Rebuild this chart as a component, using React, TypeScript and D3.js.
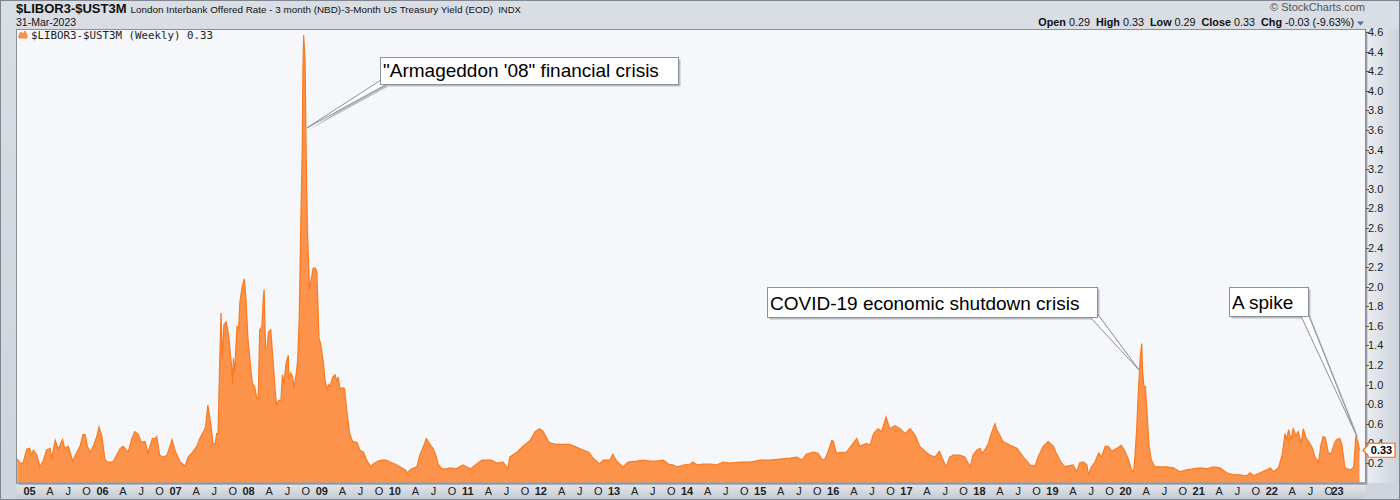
import React, { useEffect, useRef } from 'react';
import * as d3 from 'd3';

// $LIBOR3-$UST3M weekly spread as [decimal year, value]
const pre2007: [number, number][] = [
  [2004.88, 0.24], [2004.92, 0.2], [2004.96, 0.2], [2005.01, 0.34], [2005.05, 0.35], [2005.08, 0.28],
  [2005.1, 0.33], [2005.15, 0.28], [2005.19, 0.16], [2005.24, 0.23], [2005.28, 0.33], [2005.33, 0.35],
  [2005.35, 0.24], [2005.4, 0.43], [2005.44, 0.34], [2005.5, 0.44], [2005.53, 0.35], [2005.58, 0.37],
  [2005.64, 0.22], [2005.69, 0.3], [2005.74, 0.37], [2005.78, 0.49], [2005.81, 0.49], [2005.84, 0.37],
  [2005.88, 0.31], [2005.92, 0.37], [2005.97, 0.47], [2006.0, 0.57], [2006.04, 0.47], [2006.08, 0.24],
  [2006.11, 0.21], [2006.15, 0.21], [2006.19, 0.21], [2006.24, 0.28], [2006.29, 0.35], [2006.33, 0.37],
  [2006.38, 0.33], [2006.4, 0.31], [2006.45, 0.45], [2006.49, 0.52], [2006.54, 0.49], [2006.58, 0.41],
  [2006.63, 0.42], [2006.67, 0.3], [2006.73, 0.45], [2006.77, 0.45], [2006.79, 0.47], [2006.83, 0.28],
  [2006.88, 0.26], [2006.93, 0.28], [2006.97, 0.37],
];

const crisis: [number, number][] = [
  [2007.0, 0.44], [2007.04, 0.33], [2007.11, 0.21], [2007.18, 0.17], [2007.22, 0.26], [2007.27, 0.3],
  [2007.34, 0.37], [2007.38, 0.45], [2007.43, 0.52], [2007.46, 0.57], [2007.49, 0.79], [2007.53, 0.6],
  [2007.56, 0.4], [2007.59, 0.39], [2007.61, 0.5], [2007.63, 0.5], [2007.65, 1.15], [2007.67, 1.73],
  [2007.69, 1.27], [2007.71, 1.61], [2007.74, 1.64], [2007.77, 1.53], [2007.79, 1.39], [2007.82, 1.15],
  [2007.83, 1.01], [2007.84, 1.27], [2007.86, 1.12], [2007.87, 1.32], [2007.89, 1.59], [2007.91, 1.56],
  [2007.93, 1.85], [2007.96, 2.0], [2007.99, 2.08], [2008.01, 1.9], [2008.04, 1.46], [2008.08, 1.15],
  [2008.1, 1.01], [2008.13, 0.98], [2008.16, 0.86], [2008.18, 0.86], [2008.2, 1.56], [2008.23, 1.59],
  [2008.25, 1.9], [2008.26, 1.97], [2008.28, 1.37], [2008.3, 1.37], [2008.32, 1.54], [2008.35, 1.56],
  [2008.38, 1.27], [2008.41, 0.95], [2008.43, 0.79], [2008.46, 0.84], [2008.49, 0.84], [2008.51, 1.1],
  [2008.53, 1.01], [2008.56, 1.22], [2008.59, 1.3], [2008.6, 1.05], [2008.62, 1.12], [2008.65, 1.08],
  [2008.67, 0.97], [2008.7, 1.12], [2008.72, 1.27], [2008.74, 1.69], [2008.76, 2.6], [2008.78, 3.4],
  [2008.79, 4.2], [2008.8, 4.57], [2008.82, 4.3], [2008.83, 3.6], [2008.85, 2.6], [2008.88, 1.97],
  [2008.91, 2.1], [2008.93, 2.19], [2008.96, 2.19], [2008.98, 2.15], [2009.01, 1.47], [2009.03, 1.42],
  [2009.07, 1.22], [2009.09, 1.05], [2009.12, 0.95], [2009.14, 1.0], [2009.16, 0.98], [2009.2, 1.08],
  [2009.23, 1.1], [2009.25, 1.03], [2009.27, 1.08], [2009.3, 0.95], [2009.33, 0.97], [2009.36, 0.96],
  [2009.39, 0.72], [2009.43, 0.5], [2009.47, 0.42], [2009.53, 0.41], [2009.57, 0.33], [2009.62, 0.31],
  [2009.66, 0.23], [2009.72, 0.16], [2009.75, 0.19], [2009.82, 0.22], [2009.87, 0.23], [2009.93, 0.23],
  [2009.98, 0.21],
];

const calm: [number, number][] = [
  [2010.05, 0.19], [2010.12, 0.16], [2010.19, 0.13], [2010.22, 0.1], [2010.28, 0.14], [2010.35, 0.16],
  [2010.39, 0.28], [2010.44, 0.37], [2010.48, 0.45], [2010.53, 0.39], [2010.57, 0.35], [2010.61, 0.28],
  [2010.64, 0.19], [2010.69, 0.14], [2010.76, 0.14], [2010.8, 0.15], [2010.89, 0.14], [2010.98, 0.18],
  [2011.08, 0.14], [2011.17, 0.19], [2011.24, 0.23], [2011.31, 0.23], [2011.37, 0.23], [2011.44, 0.2],
  [2011.53, 0.21], [2011.6, 0.14], [2011.62, 0.26], [2011.72, 0.31], [2011.8, 0.37], [2011.9, 0.43],
  [2011.97, 0.52], [2012.03, 0.55], [2012.08, 0.52], [2012.15, 0.42], [2012.19, 0.4], [2012.26, 0.39],
  [2012.35, 0.39], [2012.44, 0.39], [2012.54, 0.36], [2012.63, 0.33], [2012.7, 0.31], [2012.76, 0.25],
  [2012.85, 0.19], [2012.9, 0.23], [2012.99, 0.23], [2013.03, 0.29], [2013.08, 0.22], [2013.17, 0.16],
  [2013.24, 0.21], [2013.36, 0.22], [2013.45, 0.23], [2013.54, 0.22], [2013.63, 0.22], [2013.72, 0.23],
  [2013.79, 0.19], [2013.86, 0.18], [2013.91, 0.16], [2014.0, 0.18], [2014.09, 0.19], [2014.13, 0.21],
  [2014.18, 0.18], [2014.27, 0.19], [2014.36, 0.19], [2014.45, 0.18], [2014.54, 0.21], [2014.63, 0.2],
  [2014.77, 0.21], [2014.91, 0.21], [2015.05, 0.23], [2015.18, 0.23], [2015.32, 0.24], [2015.46, 0.25],
  [2015.55, 0.26], [2015.62, 0.23], [2015.68, 0.29], [2015.77, 0.31], [2015.84, 0.3], [2015.89, 0.24],
  [2015.93, 0.23], [2015.97, 0.3],
];

const late: [number, number][] = [
  [2016.03, 0.43], [2016.05, 0.42], [2016.09, 0.3], [2016.14, 0.31], [2016.23, 0.31], [2016.28, 0.36],
  [2016.37, 0.45], [2016.41, 0.37], [2016.5, 0.4], [2016.55, 0.38], [2016.6, 0.5], [2016.66, 0.55],
  [2016.71, 0.52], [2016.77, 0.67], [2016.82, 0.55], [2016.89, 0.58], [2016.96, 0.55], [2017.03, 0.5],
  [2017.1, 0.55], [2017.17, 0.48], [2017.23, 0.37], [2017.3, 0.32], [2017.37, 0.28], [2017.44, 0.26],
  [2017.5, 0.32], [2017.55, 0.23], [2017.59, 0.16], [2017.64, 0.26], [2017.69, 0.28], [2017.78, 0.28],
  [2017.85, 0.26], [2017.92, 0.16], [2017.96, 0.28], [2018.01, 0.33], [2018.06, 0.35], [2018.08, 0.3],
  [2018.12, 0.33], [2018.17, 0.4], [2018.21, 0.5], [2018.26, 0.6], [2018.28, 0.55], [2018.37, 0.42],
  [2018.47, 0.38], [2018.56, 0.35], [2018.65, 0.26], [2018.74, 0.18], [2018.81, 0.17], [2018.85, 0.26],
  [2018.92, 0.37], [2018.99, 0.42], [2019.06, 0.37], [2019.1, 0.3], [2019.17, 0.2], [2019.22, 0.16],
  [2019.26, 0.17], [2019.33, 0.18], [2019.38, 0.11], [2019.42, 0.2], [2019.47, 0.21], [2019.52, 0.18],
  [2019.54, 0.08], [2019.58, 0.16], [2019.63, 0.21], [2019.68, 0.3], [2019.72, 0.26], [2019.77, 0.37],
  [2019.81, 0.37], [2019.86, 0.32], [2019.93, 0.35], [2019.99, 0.38],
];

const recent: [number, number][] = [
  [2020.04, 0.32], [2020.09, 0.23], [2020.13, 0.13], [2020.16, 0.11], [2020.18, 0.3], [2020.2, 0.54],
  [2020.22, 0.88], [2020.25, 1.29], [2020.27, 1.42], [2020.28, 1.15], [2020.3, 0.98], [2020.32, 0.98],
  [2020.35, 0.61], [2020.37, 0.37], [2020.4, 0.23], [2020.45, 0.16], [2020.52, 0.16], [2020.61, 0.16],
  [2020.7, 0.15], [2020.79, 0.11], [2020.88, 0.13], [2020.97, 0.14], [2021.07, 0.15], [2021.16, 0.14],
  [2021.25, 0.16], [2021.34, 0.15], [2021.43, 0.1], [2021.52, 0.08], [2021.61, 0.08], [2021.71, 0.07],
  [2021.75, 0.1], [2021.8, 0.07], [2021.89, 0.1], [2021.98, 0.13], [2022.03, 0.15], [2022.07, 0.11],
  [2022.14, 0.15], [2022.19, 0.28], [2022.23, 0.5], [2022.25, 0.44], [2022.28, 0.54], [2022.31, 0.43],
  [2022.34, 0.55], [2022.38, 0.48], [2022.41, 0.52], [2022.45, 0.4], [2022.48, 0.55], [2022.52, 0.45],
  [2022.56, 0.41], [2022.6, 0.36], [2022.64, 0.26], [2022.69, 0.21], [2022.72, 0.38], [2022.75, 0.47],
  [2022.78, 0.46], [2022.82, 0.31], [2022.86, 0.29], [2022.91, 0.41], [2022.94, 0.44], [2022.98, 0.45],
  [2023.01, 0.38], [2023.05, 0.15], [2023.08, 0.14], [2023.13, 0.13], [2023.17, 0.16], [2023.2, 0.48],
  [2023.23, 0.41], [2023.25, 0.33],
];

const yTickValues = [0.2, 0.4, 0.6, 0.8, 1.0, 1.2, 1.4, 1.6, 1.8, 2.0, 2.2, 2.4, 2.6, 2.8, 3.0, 3.2, 3.4, 3.6, 3.8, 4.0, 4.2, 4.4, 4.6];
const quarterLetters = ['', 'A', 'J', 'O'];

const symbol = '$LIBOR3-$UST3M';
const description = 'London Interbank Offered Rate - 3 month (NBD)-3-Month US Treasury Yield (EOD)';
const exchange = 'INDX';
const asOf = '31-Mar-2023';
const legendText = '$LIBOR3-$UST3M (Weekly) 0.33';
const lastValue = 0.33;
const quote: [string, string][] = [
  ['Open', '0.29'], ['High', '0.33'], ['Low', '0.29'], ['Close', '0.33'], ['Chg', '-0.03 (-9.63%)'],
];

// callouts: anchor in data terms [decimal year, value]
const notes = [
  { text: '"Armageddon \'08" financial crisis', at: [2008.842, 3.62], box: { x: 380, y: 57, w: 298, h: 27 }, corner: 'bl' },
  { text: 'COVID-19 economic shutdown crisis', at: [2020.232, 1.15], box: { x: 767, y: 287, w: 330, h: 30 }, corner: 'br' },
  { text: 'A spike', at: [2023.215, 0.47], box: { x: 1229, y: 287, w: 79, h: 29 }, corner: 'br' },
];

const toDate = (t: number) => {
  const yr = Math.floor(t);
  const s = Date.UTC(yr, 0, 1);
  const e = Date.UTC(yr + 1, 0, 1);
  return new Date(s + (t - yr) * (e - s));
};

const FONT = '"Liberation Sans", Arial, sans-serif';
const W = 1400;
const H = 500;

const Chart: React.FC = () => {
  const ref = useRef<SVGSVGElement | null>(null);

  useEffect(() => {
    document.body.style.margin = '0';
    if (!ref.current) return;
    const svg = d3.select(ref.current);
    svg.selectAll('*').remove();

    const plot = { left: 16.5, top: 29.5, right: 1365.5, bottom: 483 };

    const x = d3
      .scaleUtc()
      .domain([new Date(Date.UTC(2005, 0, 1)), new Date(Date.UTC(2020, 0, 1))])
      .range([26, 1122]);
    const y = d3.scaleLinear().domain([0, 4.6]).range([482.6, 32]);

    const data = [...pre2007, ...crisis, ...calm, ...late, ...recent].map(([t, v]) => ({ date: toDate(t), value: v }));

    const defs = svg.append('defs');
    const bg = defs.append('linearGradient').attr('id', 'bg').attr('x1', 0).attr('y1', 0).attr('x2', 0).attr('y2', 1);
    bg.append('stop').attr('offset', '0%').attr('stop-color', '#d9dde4');
    bg.append('stop').attr('offset', '100%').attr('stop-color', '#cfd4dc');
    const axisR = defs.append('linearGradient').attr('id', 'axr').attr('x1', 0).attr('y1', 0).attr('x2', 1).attr('y2', 0);
    axisR.append('stop').attr('offset', '0%').attr('stop-color', '#eceef2');
    axisR.append('stop').attr('offset', '100%').attr('stop-color', '#cdd2da');
    const axisB = defs.append('linearGradient').attr('id', 'axb').attr('x1', 0).attr('y1', 0).attr('x2', 0).attr('y2', 1);
    axisB.append('stop').attr('offset', '0%').attr('stop-color', '#e6e9ee');
    axisB.append('stop').attr('offset', '100%').attr('stop-color', '#c4c9d2');
    defs.append('clipPath').attr('id', 'clip')
      .append('rect')
      .attr('x', plot.left).attr('y', plot.top)
      .attr('width', plot.right - plot.left).attr('height', plot.bottom - plot.top);

    // frame
    svg.append('rect').attr('x', 0).attr('y', 0).attr('width', W).attr('height', H).attr('fill', 'url(#bg)');
    svg.append('rect').attr('x', plot.right).attr('y', plot.top).attr('width', W - plot.right - 1).attr('height', plot.bottom - plot.top)
      .attr('fill', 'url(#axr)');
    svg.append('rect').attr('x', plot.left).attr('y', plot.bottom).attr('width', plot.right - plot.left).attr('height', H - plot.bottom - 1)
      .attr('fill', 'url(#axb)');
    svg.append('rect').attr('x', 0.5).attr('y', 0.5).attr('width', W - 1).attr('height', H - 1)
      .attr('fill', 'none').attr('stroke', '#80858f');

    // plot panel with shadow
    svg.append('rect').attr('x', plot.left + 2).attr('y', plot.top + 2)
      .attr('width', plot.right - plot.left).attr('height', plot.bottom - plot.top).attr('fill', '#aab0b9');
    svg.append('rect').attr('x', plot.left).attr('y', plot.top)
      .attr('width', plot.right - plot.left).attr('height', plot.bottom - plot.top)
      .attr('fill', '#f5f7fa').attr('stroke', '#8a8f98');

    // area
    const area = d3.area<{ date: Date; value: number }>()
      .x(d => x(d.date)).y0(y(0)).y1(d => y(d.value));
    const line = d3.line<{ date: Date; value: number }>()
      .x(d => x(d.date)).y(d => y(d.value));
    const g = svg.append('g').attr('clip-path', 'url(#clip)');
    g.append('path').datum(data).attr('d', area).attr('fill', '#fd924b');
    g.append('path').datum(data).attr('d', line).attr('fill', 'none').attr('stroke', '#f97a20').attr('stroke-width', 1.2);
    svg.append('rect').attr('x', plot.left).attr('y', plot.top)
      .attr('width', plot.right - plot.left).attr('height', plot.bottom - plot.top)
      .attr('fill', 'none').attr('stroke', '#8a8f98');

    // right axis
    const ax = plot.right + 0.5;
    svg.append('line').attr('x1', ax).attr('x2', ax).attr('y1', plot.top).attr('y2', plot.bottom)
      .attr('stroke', '#7f858f').attr('stroke-dasharray', '1,1');
    yTickValues.forEach(v => {
      svg.append('line').attr('x1', ax).attr('x2', ax + 3).attr('y1', Math.round(y(v)) + 0.5).attr('y2', Math.round(y(v)) + 0.5)
        .attr('stroke', '#555');
      svg.append('text').attr('x', ax + 2).attr('y', y(v) + 4)
        .attr('font-family', FONT).attr('font-size', 11).attr('fill', '#222')
        .text(v.toFixed(1));
    });

    // bottom axis
    const ticks = d3.utcMonth.every(3)!.range(new Date(Date.UTC(2005, 0, 1)), new Date(Date.UTC(2023, 3, 1)));
    ticks.forEach(d => {
      const m = d.getUTCMonth();
      const isYear = m === 0;
      let px = x(d) + (isYear ? 3.5 : 6);
      if (isYear) px = Math.min(px, plot.right - 28);
      svg.append('text').attr('x', px).attr('y', 495).attr('text-anchor', 'middle')
        .attr('font-family', FONT).attr('font-size', 11).attr('fill', '#222')
        .attr('font-weight', isYear ? 'bold' : 'normal')
        .text(isYear ? String(d.getUTCFullYear()).slice(2) : quarterLetters[m / 3]);
    });

    // last value tag
    const ly = y(lastValue);
    svg.append('path')
      .attr('d', `M${ax - 3},${ly} L${ax + 2},${ly - 5} L${ax + 2},${ly - 7} L${ax + 29},${ly - 7} L${ax + 29},${ly + 7} L${ax + 2},${ly + 7} L${ax + 2},${ly + 5} Z`)
      .attr('fill', '#fff').attr('stroke', '#ff6a00').attr('stroke-width', 1.2);
    svg.append('text').attr('x', ax + 15.5).attr('y', ly + 4).attr('text-anchor', 'middle')
      .attr('font-family', FONT).attr('font-size', 11).attr('font-weight', 'bold').attr('fill', '#000')
      .text(lastValue.toFixed(2));

    // header
    const title = svg.append('text').attr('x', 16).attr('y', 13).attr('font-family', FONT).attr('fill', '#111');
    title.append('tspan').attr('font-size', 13).attr('font-weight', 'bold').text(symbol);
    title.append('tspan').attr('dx', 4).attr('font-size', 9.9).text(description);
    title.append('tspan').attr('dx', 5).attr('font-size', 9.5).text(exchange);
    svg.append('text').attr('x', 16).attr('y', 26).attr('font-family', FONT).attr('font-size', 10.5).attr('fill', '#111')
      .text(asOf);
    svg.append('text').attr('x', 1365).attr('y', 11).attr('text-anchor', 'end').attr('font-family', FONT)
      .attr('font-size', 11).attr('fill', '#555').text('\u00a9 StockCharts.com');
    const q = svg.append('text').attr('x', 1354).attr('y', 25.5).attr('text-anchor', 'end')
      .attr('font-family', FONT).attr('font-size', 10.8).attr('fill', '#111');
    quote.forEach(([k, v], i) => {
      q.append('tspan').attr('dx', i === 0 ? 0 : 6).attr('font-weight', 'bold').text(k);
      q.append('tspan').attr('dx', 3).text(v);
    });
    svg.append('path').attr('d', 'M1357,21.5 L1364,21.5 L1360.5,25.5 Z').attr('fill', '#4b6fa5');

    // legend
    svg.append('path').attr('d', 'M19,38 L19,35 L21,32 L23,34 L25,31 L27,35 L27,38 Z').attr('fill', '#fd924b').attr('stroke', '#f97a20').attr('stroke-width', 0.8);
    svg.append('text').attr('x', 31).attr('y', 38.5).attr('font-family', '"DejaVu Sans Mono", monospace')
      .attr('font-size', 10.8).attr('fill', '#222').text(legendText);

    // callouts
    notes.forEach(n => {
      const { x: bx, y: by, w, h } = n.box;
      const tx = x(toDate(n.at[0]));
      const ty = y(n.at[1]);
      let p1: [number, number];
      let p2: [number, number];
      if (n.corner === 'bl') {
        p1 = [bx + 1, by + h - 4];
        p2 = [bx + 7, by + h];
      } else {
        p1 = [bx + w - 7, by + h];
        p2 = [bx + w - 1, by + h - 5];
      }
      const wedge = `M${p1[0]},${p1[1]} L${tx},${ty} L${p2[0]},${p2[1]} Z`;
      svg.append('path').attr('d', wedge).attr('transform', 'translate(2,2)').attr('fill', '#b9bdc4');
      svg.append('rect').attr('x', bx + 2.5).attr('y', by + 2.5).attr('width', w).attr('height', h).attr('fill', '#b9bdc4');
      svg.append('path').attr('d', wedge).attr('fill', '#fff').attr('stroke', '#8c9098');
      svg.append('rect').attr('x', bx + 0.5).attr('y', by + 0.5).attr('width', w).attr('height', h)
        .attr('fill', '#fff').attr('stroke', '#8c9098');
      svg.append('text').attr('x', bx + 3).attr('y', by + h - 7).attr('font-family', FONT)
        .attr('font-size', 19).attr('fill', '#000').text(n.text);
    });
  }, []);

  return <svg ref={ref} width={W} height={H} style={{ display: 'block' }} />;
};

export default function App() {
  return <Chart />;
}
